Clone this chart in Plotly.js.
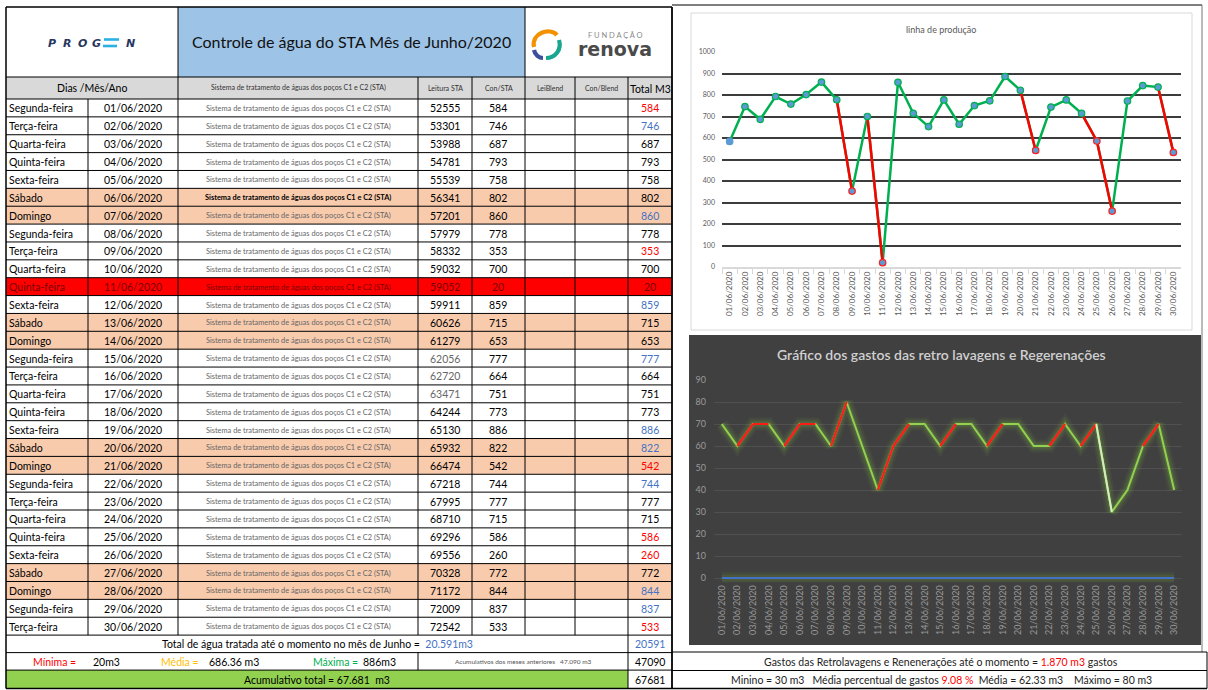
<!DOCTYPE html>
<html><head><meta charset="utf-8">
<script src="https://cdn.plot.ly/plotly-3.0.1.min.js"></script>
<style>html,body{margin:0;padding:0;background:#fff}#chart{width:1208px;height:690px}</style>
</head><body><div id="chart"></div>
<script>
// ---------------- DATA ----------------
const weekdays = ['Segunda-feira','Terça-feira','Quarta-feira','Quinta-feira','Sexta-feira','Sábado','Domingo',
  'Segunda-feira','Terça-feira','Quarta-feira','Quinta-feira','Sexta-feira','Sábado','Domingo',
  'Segunda-feira','Terça-feira','Quarta-feira','Quinta-feira','Sexta-feira','Sábado','Domingo',
  'Segunda-feira','Terça-feira','Quarta-feira','Quinta-feira','Sexta-feira','Sábado','Domingo',
  'Segunda-feira','Terça-feira'];
const dates = ['01/06/2020','02/06/2020','03/06/2020','04/06/2020','05/06/2020','06/06/2020','07/06/2020',
  '08/06/2020','09/06/2020','10/06/2020','11/06/2020','12/06/2020','13/06/2020','14/06/2020',
  '15/06/2020','16/06/2020','17/06/2020','18/06/2020','19/06/2020','20/06/2020','21/06/2020',
  '22/06/2020','23/06/2020','24/06/2020','25/06/2020','26/06/2020','27/06/2020','28/06/2020',
  '29/06/2020','30/06/2020'];
const systemName = 'Sistema de tratamento de águas dos poços C1 e C2 (STA)';
const leituraSTA = [52555,53301,53988,54781,55539,56341,57201,57979,58332,59032,59052,59911,60626,61279,
  62056,62720,63471,64244,65130,65932,66474,67218,67995,68710,69296,69556,70328,71172,72009,72542];
const conSTA = [584,746,687,793,758,802,860,778,353,700,20,859,715,653,777,664,751,773,886,822,542,
  744,777,715,586,260,772,844,837,533];
const totalM3 = [584,746,687,793,758,802,860,778,353,700,20,859,715,653,777,664,751,773,886,822,542,
  744,777,715,586,260,772,844,837,533];
const totalBlueDates = ['02/06/2020','07/06/2020','12/06/2020','15/06/2020','19/06/2020','20/06/2020',
  '22/06/2020','28/06/2020','29/06/2020'];
const leituraGreyDates = ['15/06/2020','16/06/2020','17/06/2020'];
const headerLabels = ['Leitura STA','Con/STA','LeiBlend','Con/Blend'];
const gastos = [70,60,70,70,60,70,70,60,80,60,40,60,70,70,60,70,70,60,70,70,60,60,70,60,70,30,40,60,70,40];
const gastosBaseline = [0,0,0,0,0,0,0,0,0,0,0,0,0,0,0,0,0,0,0,0,0,0,0,0,0,0,0,0,0,0];
const gastosRedSegments = [1,2,4,5,7,10,11,14,17,21,23,27];
const gastosPaleSegments = [24];

// ---------------- HELPERS ----------------
const W = 1208, H = 690;
const FONT = 'Lato, "Liberation Sans", sans-serif';
const shapes = [], annotations = [];
const px = x => x / W, py = y => 1 - y / H;
function box(x0, y0, x1, y1, fill, line, lw) {
  shapes.push({type:'rect', xref:'paper', yref:'paper', x0:px(x0), x1:px(x1), y0:py(y1), y1:py(y0),
    fillcolor:fill || 'rgba(0,0,0,0)', line:{color:line || 'rgba(0,0,0,0)', width:lw || 0}, layer:'below'});
}
function seg(x0, y0, x1, y1, color, w) {
  shapes.push({type:'line', xref:'paper', yref:'paper', x0:px(x0), x1:px(x1), y0:py(y0), y1:py(y1),
    line:{color:color, width:w}, layer:'below'});
}
function curve(pts, color, w) {
  let d = 'M ' + px(pts[0][0]) + ' ' + py(pts[0][1]) + ' C';
  for (let i = 1; i < pts.length; i++) d += ' ' + px(pts[i][0]) + ' ' + py(pts[i][1]);
  shapes.push({type:'path', xref:'paper', yref:'paper', path:d, line:{color:color, width:w}, layer:'below'});
}
function label(x, y, t, o) {
  o = o || {};
  annotations.push({xref:'paper', yref:'paper', x:px(x), y:py(y), text:t, showarrow:false,
    xanchor:o.anchor || 'center', yanchor:'middle', borderpad:0,
    font:{family:o.family || FONT, size:o.size || 10.5, color:o.color || '#000',
      weight:o.weight || 'normal', style:o.style || 'normal'}});
}

// ---------------- TABLE ----------------
const COLS = [6, 88, 178, 418, 472, 525, 575, 628, 672];
const ROW0 = 99, RH = 17.87, NR = dates.length;
const TOP = 7, HDR = 77;
const tableEnd = ROW0 + NR * RH;

box(COLS[2], TOP, COLS[5], HDR, '#9dc3e6');
box(COLS[0], HDR, COLS[8], ROW0, '#d9d9d9');
for (let i = 0; i < NR; i++) {
  const t = ROW0 + i * RH;
  const weekend = weekdays[i] === 'Sábado' || weekdays[i] === 'Domingo';
  const alert = conSTA[i] < 100;
  if (alert) box(COLS[0], t, COLS[8], t + RH, '#ff0000');
  else if (weekend) box(COLS[0], t, COLS[8], t + RH, '#f8cbad');
}
const r1 = tableEnd, r2 = r1 + 17.5, r3 = r2 + 17.5, r4 = 688.5;
box(COLS[0], r3, COLS[7], r4, '#92d050');

seg(COLS[0], TOP, COLS[8], TOP, '#000', 1.5);
seg(COLS[0], HDR, COLS[8], HDR, '#000', 1.2);
for (let i = 0; i <= NR; i++) seg(COLS[0], ROW0 + i * RH, COLS[8], ROW0 + i * RH, '#000', i === 0 ? 1.2 : 1);
seg(COLS[0], r2, COLS[8], r2, '#000', 1);
seg(COLS[0], r3, COLS[8], r3, '#000', 1);
seg(COLS[0], r4, COLS[8], r4, '#000', 1.5);
seg(COLS[0], TOP, COLS[0], r4, '#000', 1.5);
seg(COLS[8], TOP, COLS[8], r4, '#000', 1.8);
seg(COLS[2], TOP, COLS[2], HDR, '#000', 1);
seg(COLS[5], TOP, COLS[5], HDR, '#000', 1);
seg(COLS[2], HDR, COLS[2], ROW0, '#000', 1);
for (let c = 3; c < 8; c++) seg(COLS[c], HDR, COLS[c], ROW0, '#000', 1);
for (let c = 1; c < 8; c++) seg(COLS[c], ROW0, COLS[c], tableEnd, '#000', 1);
seg(COLS[7], r1, COLS[7], r4, '#000', 1);
seg(COLS[3], r2, COLS[3], r3, '#000', 1);

// logos
const PG = {size:11, weight:'bold', style:'italic', color:'#27365f', family:'"DejaVu Sans", sans-serif'};
['P','R','O','G'].forEach((ch, k) => label(52 + k * 15, 43, ch, PG));
seg(104, 39.5, 119, 39.5, '#2ab0e4', 2.6);
seg(103, 46, 117, 46, '#2ab0e4', 2.6);
label(130, 43, 'N', PG);
label(351, 42, 'Controle de água do STA Mês de Junho/2020', {size:16, color:'#111'});
curve([[534,47],[531,33],[550,27],[557,35]], '#f39200', 4.2);
curve([[559,40],[562,50],[555,58],[546,58]], '#1aa58e', 4.2);
curve([[534,50],[535,55],[539,58],[543,58]], '#3c4f9e', 4.2);
label(615, 35.5, 'F U N D A Ç Ã O', {size:7.5, color:'#8a8a8a'});
label(615, 48.5, 'renova', {size:19, weight:'bold', color:'#4a4a4a', family:'"DejaVu Sans", sans-serif'});

// header labels
label(92, 88, 'Dias /Mês/Ano', {size:10.5});
label(298, 88, systemName, {size:7, color:'#333'});
headerLabels.forEach((h, k) => label((COLS[3 + k] + COLS[4 + k]) / 2, 88, h, {size:7, color:'#333'}));
label(650, 88.5, 'Total M3', {size:10.5});

// rows
for (let i = 0; i < NR; i++) {
  const m = ROW0 + i * RH + RH / 2 + 0.5;
  const alert = conSTA[i] < 100;
  const base = alert ? '#7a0000' : '#000';
  label(8, m, weekdays[i], {anchor:'left', color:base});
  label(133, m, dates[i], {color:base});
  label(298, m, systemName, {size:7.4, color:alert ? '#7a0000' : (i === 5 ? '#000' : '#666'),
    weight:(i === 5 ? 'bold' : 'normal')});
  label(445, m, String(leituraSTA[i]), {color:alert ? base : (leituraGreyDates.includes(dates[i]) ? '#666' : '#000')});
  label(498, m, String(conSTA[i]), {color:base});
  let tc = '#000';
  if (alert) tc = '#7a0000';
  else if (totalM3[i] < 600) tc = '#ff0000';
  else if (totalBlueDates.includes(dates[i])) tc = '#4472c4';
  label(650, m, String(totalM3[i]), {color:tc});
}
label(317, (r1 + r2) / 2 + 0.5, 'Total de água tratada até o momento no mês de Junho =  <span style="color:#4472c4">20.591m3</span>', {size:10.5});
label(650, (r1 + r2) / 2 + 0.5, '20591', {color:'#4472c4'});
const rm = (r2 + r3) / 2 + 0.5;
label(55, rm, 'Mínima =', {color:'#ff0000'});
label(106, rm, '20m3');
label(180, rm, 'Média =', {color:'#ffc000'});
label(234, rm, '686.36 m3');
label(335, rm, 'Máxima =', {color:'#00b050'});
label(379, rm, '886m3');
label(523, rm, 'Acumulativos dos meses anteriores   47.090 m3', {size:6.5, color:'#555'});
label(650, rm, '47090');
label(317, (r3 + r4) / 2 + 0.5, 'Acumulativo total = 67.681  m3', {size:10.5});
label(650, (r3 + r4) / 2 + 0.5, '67681');

// ---------------- RIGHT SIDE FRAMES ----------------
seg(COLS[8], 5, 1202, 5, '#555', 1.5);
seg(1202, 5, 1202, 652, '#777', 1);
box(691, 13, 1192, 330, '#ffffff', '#d9d9d9', 1);
box(689, 335, 1201, 645, '#404040');
seg(COLS[8], 652, 1207, 652, '#000', 1);
seg(COLS[8], 670.5, 1207, 670.5, '#000', 1);
seg(COLS[8], 688.5, 1207, 688.5, '#000', 1.5);
seg(1207, 652, 1207, 688.5, '#000', 1);
label(941, 30, 'linha de produção', {size:9, color:'#595959'});
label(941, 355, 'Gráfico dos gastos das retro lavagens e Regerenações', {size:14, color:'#d0d0d0', weight:600});
label(941, 661.5, 'Gastos das Retrolavagens e Renenerações até o momento = <span style="color:#ff0000">1.870 m3</span> gastos', {size:10.5, color:'#222'});
label(941, 679.5, 'Minino = 30 m3   Média percentual de gastos <span style="color:#ff0000">9.08 %</span>  Média = 62.33 m3    Máximo = 80 m3', {size:10.5, color:'#222'});

// ---------------- CHART TRACES ----------------
function segmentTrace(xs, ys, idx, xa, ya, color, width) {
  const sx = [], sy = [];
  idx.forEach(i => { sx.push(xs[i], xs[i + 1], xs[i + 1]); sy.push(ys[i], ys[i + 1], null); });
  return {x:sx, y:sy, xaxis:xa, yaxis:ya, mode:'lines', line:{color:color, width:width}, connectgaps:false, hoverinfo:'skip'};
}
function glow(ys, widths, alphas) {
  return widths.map((w, k) => ({x:dates, y:ys, xaxis:'x2', yaxis:'y2', mode:'lines',
    line:{color:'rgba(130,200,60,' + alphas[k] + ')', width:w}, hoverinfo:'skip'}));
}
const prodRed = [];
for (let i = 0; i < conSTA.length - 1; i++) if (conSTA[i + 1] < 600) prodRed.push(i);
const markerLine = conSTA.map((v, i) => i === 0 ? '#5b9bd5' : (v < 600 ? '#ff2020' : '#00b050'));

const traces = [
  {x:dates, y:conSTA, xaxis:'x', yaxis:'y', mode:'lines', line:{color:'#00b050', width:2.5}, hoverinfo:'skip'},
  segmentTrace(dates, conSTA, prodRed, 'x', 'y', '#ff0000', 2.5),
  {x:dates, y:conSTA, xaxis:'x', yaxis:'y', mode:'markers', cliponaxis:false,
    marker:{color:'#5b9bd5', size:6.5, line:{color:markerLine, width:1.2}}, hoverinfo:'skip'}
].concat(
  glow(gastosBaseline, [12, 7], [0.07, 0.12]),
  glow(gastos, [13, 9, 5], [0.06, 0.10, 0.16]),
  [
    {x:dates, y:gastosBaseline, xaxis:'x2', yaxis:'y2', mode:'lines', line:{color:'#4472c4', width:2.2}, hoverinfo:'skip'},
    {x:dates, y:gastos, xaxis:'x2', yaxis:'y2', mode:'lines', line:{color:'#92d050', width:2}, hoverinfo:'skip'},
    segmentTrace(dates, gastos, gastosRedSegments, 'x2', 'y2', '#ff1a1a', 2.2),
    segmentTrace(dates, gastos, gastosPaleSegments, 'x2', 'y2', '#d3ecc0', 2)
  ]
);

const layout = {
  width:W, height:H, margin:{l:0, r:0, t:0, b:0}, showlegend:false, hovermode:false,
  paper_bgcolor:'#ffffff', plot_bgcolor:'rgba(0,0,0,0)',
  font:{family:FONT},
  xaxis:{domain:[px(722), px(1181)], anchor:'y', type:'category', categoryorder:'array', categoryarray:dates,
    range:[-0.5, 29.5], tickangle:-90, tickfont:{size:8, color:'#595959', family:FONT},
    showgrid:false, zeroline:false, showline:true, linecolor:'#d9d9d9', linewidth:1.5,
    ticks:'outside', tickson:'boundaries', ticklen:5, tickcolor:'#d9d9d9', fixedrange:true},
  yaxis:{domain:[py(267), py(52)], anchor:'x', range:[0, 1000], tick0:0, dtick:100,
    showgrid:true, gridcolor:'#3c3c3c', gridwidth:2, zeroline:true, zerolinecolor:'#d9d9d9', zerolinewidth:2,
    showline:false, tickfont:{size:7, color:'#595959', family:FONT}, ticklabelstandoff:6, fixedrange:true},
  xaxis2:{domain:[px(714), px(1182)], anchor:'y2', type:'category', categoryorder:'array', categoryarray:dates,
    range:[-0.5, 29.5], tickangle:-90, tickfont:{size:9, color:'#9a9a9a', family:FONT},
    showgrid:false, zeroline:false, showline:false, ticks:'', fixedrange:true},
  yaxis2:{domain:[py(582.4), py(380)], anchor:'x2', range:[-2, 90], tick0:0, dtick:10,
    showgrid:true, gridcolor:'#505050', gridwidth:1, zeroline:false, showline:false,
    tickfont:{size:9, color:'#9a9a9a', family:FONT}, ticklabelstandoff:7, fixedrange:true},
  shapes:shapes, annotations:annotations
};
Plotly.newPlot('chart', traces, layout, {displayModeBar:false, staticPlot:true});
</script></body></html>
